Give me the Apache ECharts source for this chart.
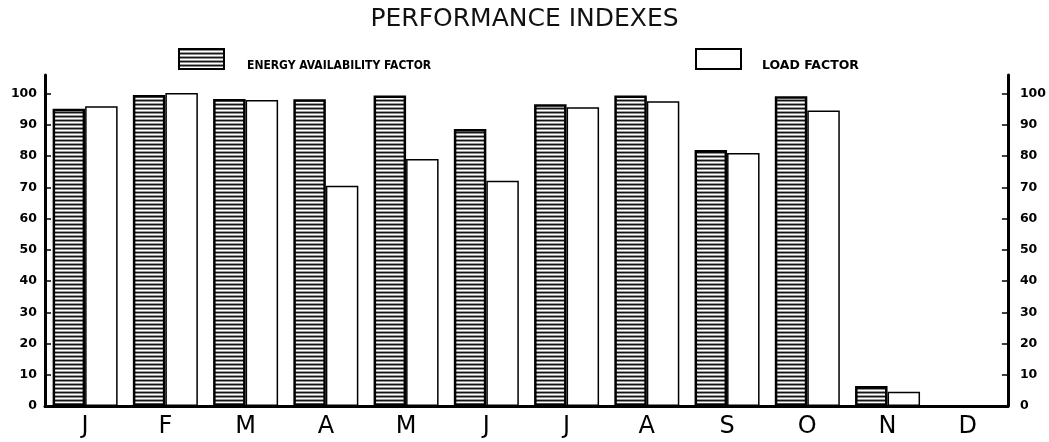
<!DOCTYPE html>
<html>
<head>
<meta charset="utf-8">
<script src="https://cdn.jsdelivr.net/npm/echarts@6/dist/echarts.min.js"></script>
<style>
html,body{margin:0;padding:0;background:#fff;}
#chart{width:1049px;height:442px;}
</style>
</head>
<body>
<div id="chart"></div>
<script>
var titleText = 'PERFORMANCE INDEXES';
var categories = ['J','F','M','A','M','J','J','A','S','O','N','D'];
var seriesNames = ['ENERGY AVAILABILITY FACTOR', 'LOAD FACTOR'];
var energyAvailability = [95.2, 99.6, 98.3, 98.2, 99.4, 88.7, 96.6, 99.4, 82.0, 99.2, 6.4, null];
var loadFactor = [96.0, 100.2, 98.0, 70.5, 79.1, 72.1, 95.7, 97.6, 81.0, 94.6, 4.6, null];
var tickValues = [0,10,20,30,40,50,60,70,80,90,100];

function makeStripe(){
  var c = document.createElement('canvas');
  c.width = 4; c.height = 4;
  var ctx = c.getContext('2d');
  var rows = ['#151515','#8c8c8c','#ffffff','#9a9a9a'];
  for (var i=0;i<4;i++){ ctx.fillStyle = rows[i]; ctx.fillRect(0,i,4,1); }
  return c;
}
var stripe = {image: makeStripe(), repeat: 'repeat'};

var chart = echarts.init(document.getElementById('chart'), null, {renderer:'canvas'});
var axisLabelStyle = {color:'#000', fontFamily:'DejaVu Sans', fontWeight:'bold', fontSize:12.5};
var legendBase = {top:48, itemWidth:45, itemHeight:20, icon:'rect', padding:0, selectedMode:false,
  formatter:function(){return '';}};
chart.setOption({
  animation:false,
  backgroundColor:'#fff',
  title:[
    {text:titleText, left:'center', top:7, padding:0, textStyle:{color:'#111', fontFamily:'DejaVu Sans', fontWeight:'normal', fontSize:25}},
    {text:seriesNames[0], left:247, top:60, padding:0, textStyle:{color:'#000', fontFamily:'DejaVu Sans Condensed', fontWeight:'bold', fontSize:12}},
    {text:seriesNames[1], left:762, top:59, padding:0, textStyle:{color:'#000', fontFamily:'DejaVu Sans', fontWeight:'bold', fontSize:12.5}}
  ],
  legend:[
    Object.assign({left:178, data:[seriesNames[0]]}, legendBase),
    Object.assign({left:695, data:[seriesNames[1]]}, legendBase)
  ],
  grid:{left:45, right:40, top:75, bottom:36, containLabel:false},
  xAxis:{type:'category', data:categories,
    axisLine:{lineStyle:{color:'#000', width:3}},
    axisTick:{show:false},
    axisLabel:{color:'#000', fontFamily:'DejaVu Sans', fontSize:24, margin:9},
    splitLine:{show:false}},
  yAxis:[
    {type:'value', position:'left', min:0, max:106,
     axisLine:{show:true, lineStyle:{color:'#000', width:3}},
     axisTick:{show:true, inside:true, length:6, lineStyle:{color:'#000', width:1.5}, customValues:tickValues},
     axisLabel:Object.assign({margin:8, customValues:tickValues}, axisLabelStyle),
     splitLine:{show:false}},
    {type:'value', position:'right', min:0, max:106,
     axisLine:{show:true, lineStyle:{color:'#000', width:3}},
     axisTick:{show:true, inside:true, length:6, lineStyle:{color:'#000', width:1.5}, customValues:tickValues},
     axisLabel:Object.assign({margin:12, customValues:tickValues}, axisLabelStyle),
     splitLine:{show:false}}
  ],
  series:[
    {name:seriesNames[0], type:'bar', data:energyAvailability, barGap:'0%', barCategoryGap:'19%',
     itemStyle:{color:stripe, borderColor:'#000', borderWidth:2.5}},
    {name:seriesNames[1], type:'bar', data:loadFactor, barGap:'0%', barCategoryGap:'19%',
     itemStyle:{color:'#fff', borderColor:'#000', borderWidth:1.5}}
  ]
});
</script>
</body>
</html>
